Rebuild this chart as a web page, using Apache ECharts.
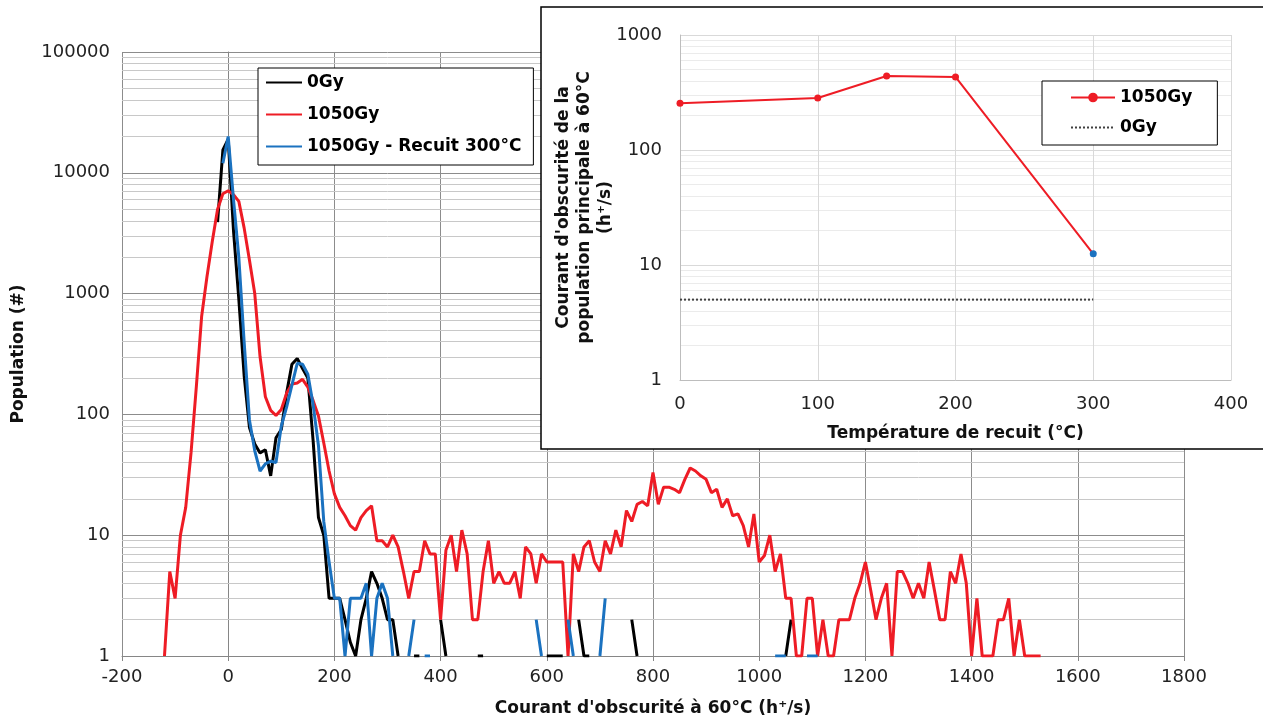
<!DOCTYPE html>
<html><head><meta charset="utf-8">
<script src="https://cdn.jsdelivr.net/npm/echarts@6/dist/echarts.min.js"></script>
<style>html,body{margin:0;padding:0;background:#fff}#c{width:1263px;height:722px}</style>
</head><body><div id="c"></div>
<script>
const _ = null;
// Histogram bins (h+/s)
const bins = [
-120,-110,-100,-90,-80,-70,-60,-50,-40,-30,
-20,-10,0,10,20,30,40,50,60,70,
80,90,100,110,120,130,140,150,160,170,
180,190,200,210,220,230,240,250,260,270,
280,290,300,310,320,330,340,350,360,370,
380,390,400,410,420,430,440,450,460,470,
480,490,500,510,520,530,540,550,560,570,
580,590,600,610,620,630,640,650,660,670,
680,690,700,710,720,730,740,750,760,770,
780,790,800,810,820,830,840,850,860,870,
880,890,900,910,920,930,940,950,960,970,
980,990,1000,1010,1020,1030,1040,1050,1060,1070,
1080,1090,1100,1110,1120,1130,1140,1150,1160,1170,
1180,1190,1200,1210,1220,1230,1240,1250,1260,1270,
1280,1290,1300,1310,1320,1330,1340,1350,1360,1370,
1380,1390,1400,1410,1420,1430,1440,1450,1460,1470,
1480,1490,1500,1510,1520,1530];
const pop0Gy = [
_,_,_,_,_,_,_,_,_,_,
3900,15500,19000,3300,900,210,78,57,48,51,
31,64,75,150,260,290,240,200,60,14,
10,3,3,3,2,1.3,1,2,3,5,
4,3,2,2,1,_,_,1,1,_,
_,_,2,1,_,_,_,_,_,1,
1,_,_,_,_,_,_,_,_,_,
_,_,1,1,1,1,_,_,2,1,
1,_,_,_,_,_,_,_,2,1,
_,_,_,_,_,_,_,_,_,_,
_,_,_,_,_,_,_,_,_,_,
_,_,_,_,_,_,_,1,2,_,
_,_,_,_,_,_,_,_,_,_,
_,_,_,_,_,_,_,_,_,_,
_,_,_,_,_,_,_,_,_,_,
_,_,_,_,_,_,_,_,_,_,
_,_,_,_,_,_];
const pop1050Gy = [
1,5,3,10,17,48,170,650,1380,2700,
5000,6700,7100,6600,5800,3500,1900,1000,300,140,
108,98,110,150,178,182,195,168,130,97,
58,34,22,17,14.5,12,11,14,16,17.5,
9,9,8,10,8,5,3,5,5,9,
7,7,2,7.5,10,5,11,7,2,2,
5,9,4,5,4,4,5,3,8,7,
4,7,6,6,6,6,1,7,5,8,
9,6,5,9,7,11,8,16,13,18,
19,17.5,33,18,25,25,24,22.5,29,36,
34,31,29,22.5,24,17,20,14.5,15,12,
8,15,6,6.8,10,5,7,3,3,1,
1,3,3,1,2,1,1,2,2,2,
3,4,6,3.5,2,3,4,1,5,5,
4,3,4,3,6,3.5,2,2,5,4,
7,4,1,3,1,1,1,2,2,3,
1,2,1,1,1,1];
const pop1050GyRecuit = [
_,_,_,_,_,_,_,_,_,_,
_,12000,20000,6000,2000,400,90,50,34,39,
41,40,80,115,175,265,260,215,120,55,
13,6,3,3,1,3,3,3,4,1,
3,4,3,1,_,_,1,2,_,1,
1,_,_,_,_,_,_,_,_,_,
_,_,_,_,_,_,_,_,_,_,
2,1,_,_,_,_,2,1,_,_,
_,_,1,3,_,_,_,_,_,_,
_,_,_,_,_,_,_,_,_,_,
_,_,_,_,_,_,_,_,_,_,
_,_,_,_,_,1,1,1,_,_,
_,1,1,1,_,_,_,_,_,_,
_,_,_,_,_,_,_,_,_,_,
_,_,_,_,_,_,_,_,_,_,
_,_,_,_,_,_,_,_,_,_,
_,_,_,_,_,_];
const minorMain = [2,3,4,5,6,7,8,9,20,30,40,50,60,70,80,90,200,300,400,500,600,700,800,900,
  2000,3000,4000,5000,6000,7000,8000,9000,20000,30000,40000,50000,60000,70000,80000,90000];
// Inset: dark current of main population vs annealing temperature
const recuitTemps = [0,100,150,200,300];
const recuitValues = [255,283,440,432,12.5];
const ref0GyTemps = [0,300];
const ref0GyValues = [5,5];
const minorInset = [2,3,4,5,6,7,8,9,20,30,40,50,60,70,80,90,200,300,400,500,600,700,800,900];

const FONT = "'DejaVu Sans','Liberation Sans',sans-serif";
const pair = (xs, ys) => xs.map((x,i)=>[x, ys[i]]);
const chart = echarts.init(document.getElementById('c'), null, {renderer:'canvas'});
const fmt = v => String(Math.round(v));
const option = {
  animation:false,
  textStyle:{fontFamily:FONT},
  grid:[{left:122,right:79,top:52,bottom:65},{left:680,right:32,top:35,bottom:342}],
  xAxis:[
    {type:'value',gridIndex:0,min:-200,max:1800,interval:200,
     axisLine:{show:true,onZero:false,lineStyle:{color:'#868686'}},
     axisTick:{show:true,length:5,lineStyle:{color:'#868686'}},
     axisLabel:{color:'#222',fontSize:18,margin:12,formatter:fmt,fontFamily:FONT},
     splitLine:{show:true,lineStyle:{color:'#8c8c8c'}},
     name:"Courant d'obscurité à 60°C (h\u207A/s)",nameLocation:'middle',nameGap:44,nameMoveOverlap:false,
     nameTextStyle:{fontWeight:'bold',fontSize:17,color:'#111',fontFamily:FONT}},
    {type:'value',gridIndex:1,min:0,max:400,interval:100,z:60,
     axisLine:{show:true,onZero:false,lineStyle:{color:'#bdbdbd'}},
     axisTick:{show:false},
     axisLabel:{color:'#222',fontSize:18,margin:15,formatter:fmt,fontFamily:FONT},
     splitLine:{show:true,lineStyle:{color:'#d9d9d9'}},
     name:'Température de recuit (°C)',nameLocation:'middle',nameGap:45,nameMoveOverlap:false,
     nameTextStyle:{fontWeight:'bold',fontSize:17,color:'#111',fontFamily:FONT}}
  ],
  yAxis:[
    {type:'log',logBase:10,gridIndex:0,min:1,max:100000,splitNumber:5,
     axisLine:{show:true,lineStyle:{color:'#868686'}},
     axisTick:{show:true,length:5,lineStyle:{color:'#868686'}},
     axisLabel:{color:'#222',fontSize:18,margin:12,formatter:fmt,fontFamily:FONT},
     splitLine:{show:true,lineStyle:{color:'#8c8c8c'}},
     name:'Population (#)',nameLocation:'middle',nameGap:95,nameMoveOverlap:false,
     nameTextStyle:{fontWeight:'bold',fontSize:17,color:'#111',fontFamily:FONT}},
    {type:'log',logBase:10,gridIndex:1,min:1,max:1000,splitNumber:3,z:60,
     axisLine:{show:true,lineStyle:{color:'#bdbdbd'}},
     axisTick:{show:false},
     axisLabel:{color:'#222',fontSize:18,margin:18,formatter:fmt,fontFamily:FONT},
     splitLine:{show:true,lineStyle:{color:'#d9d9d9'}},
     name:"Courant d'obscurité de la\npopulation principale à 60°C\n(h\u207A/s)",
     nameLocation:'middle',nameGap:64,nameMoveOverlap:false,
     nameTextStyle:{fontWeight:'bold',fontSize:17,lineHeight:21,color:'#111',fontFamily:FONT}}
  ],
  legend:[
    {data:['0Gy','1050Gy','1050Gy - Recuit 300°C'],orient:'vertical',left:258,top:68,z:10,
     backgroundColor:'#fff',borderColor:'#000',borderWidth:1,padding:[6,12,10,7],
     itemGap:15,itemWidth:36,itemHeight:14,selectedMode:false,
     itemStyle:{opacity:0},
     textStyle:{fontSize:17,fontWeight:'bold',color:'#000',fontFamily:FONT}},
    {data:[{name:'in:1050Gy'},{name:'in:0Gy',itemStyle:{opacity:0}}],
     orient:'vertical',left:1042,top:81,z:80,
     backgroundColor:'#fff',borderColor:'#000',borderWidth:1,padding:[8,25,9,28],
     itemGap:13,itemWidth:44,itemHeight:12,selectedMode:false,
     formatter:n=>n.replace('in:',''),
     textStyle:{fontSize:17,fontWeight:'bold',color:'#000',fontFamily:FONT}}
  ],
  graphic:[{type:'rect',z:50,silent:true,shape:{x:541,y:7,width:740,height:442},
            style:{fill:'#fff',stroke:'#000',lineWidth:1.5}}],
  series:[
    {name:'minorMain',type:'line',xAxisIndex:0,yAxisIndex:0,data:[],z:1,silent:true,
     markLine:{z:1,silent:true,symbol:['none','none'],label:{show:false},animation:false,
       lineStyle:{color:'#c8c8c8',width:1,type:'solid'},emphasis:{disabled:true},
       data:minorMain.map(v=>({yAxis:v}))}},
    {name:'0Gy',type:'line',xAxisIndex:0,yAxisIndex:0,data:pair(bins,pop0Gy),symbol:'none',
     connectNulls:false,lineStyle:{color:'#000',width:3},itemStyle:{color:'#000'},z:3},
    {name:'1050Gy',type:'line',xAxisIndex:0,yAxisIndex:0,data:pair(bins,pop1050Gy),symbol:'none',
     connectNulls:false,lineStyle:{color:'#ee1c25',width:3},itemStyle:{color:'#ee1c25'},z:4},
    {name:'1050Gy - Recuit 300°C',type:'line',xAxisIndex:0,yAxisIndex:0,data:pair(bins,pop1050GyRecuit),symbol:'none',
     connectNulls:false,lineStyle:{color:'#1b72c0',width:3},itemStyle:{color:'#1b72c0'},z:5},
    {name:'minorInset',type:'line',xAxisIndex:1,yAxisIndex:1,data:[],z:55,silent:true,
     markLine:{z:55,silent:true,symbol:['none','none'],label:{show:false},animation:false,
       lineStyle:{color:'#ebebeb',width:1,type:'solid'},emphasis:{disabled:true},
       data:minorInset.map(v=>({yAxis:v}))}},
    {name:'in:0Gy',type:'line',xAxisIndex:1,yAxisIndex:1,data:pair(ref0GyTemps,ref0GyValues),symbol:'none',
     lineStyle:{color:'#404040',width:2,type:'dotted'},itemStyle:{color:'#404040'},z:70},
    {name:'in:1050Gy',type:'line',xAxisIndex:1,yAxisIndex:1,
     data:recuitTemps.map((t,i)=>i===recuitTemps.length-1
        ? {value:[t,recuitValues[i]],itemStyle:{color:'#1b72c0'}}
        : {value:[t,recuitValues[i]]}),
     symbol:'circle',symbolSize:7,showSymbol:true,
     lineStyle:{color:'#ee1c25',width:2},itemStyle:{color:'#ee1c25'},z:72}
  ]
};
chart.setOption(option);
</script></body></html>
